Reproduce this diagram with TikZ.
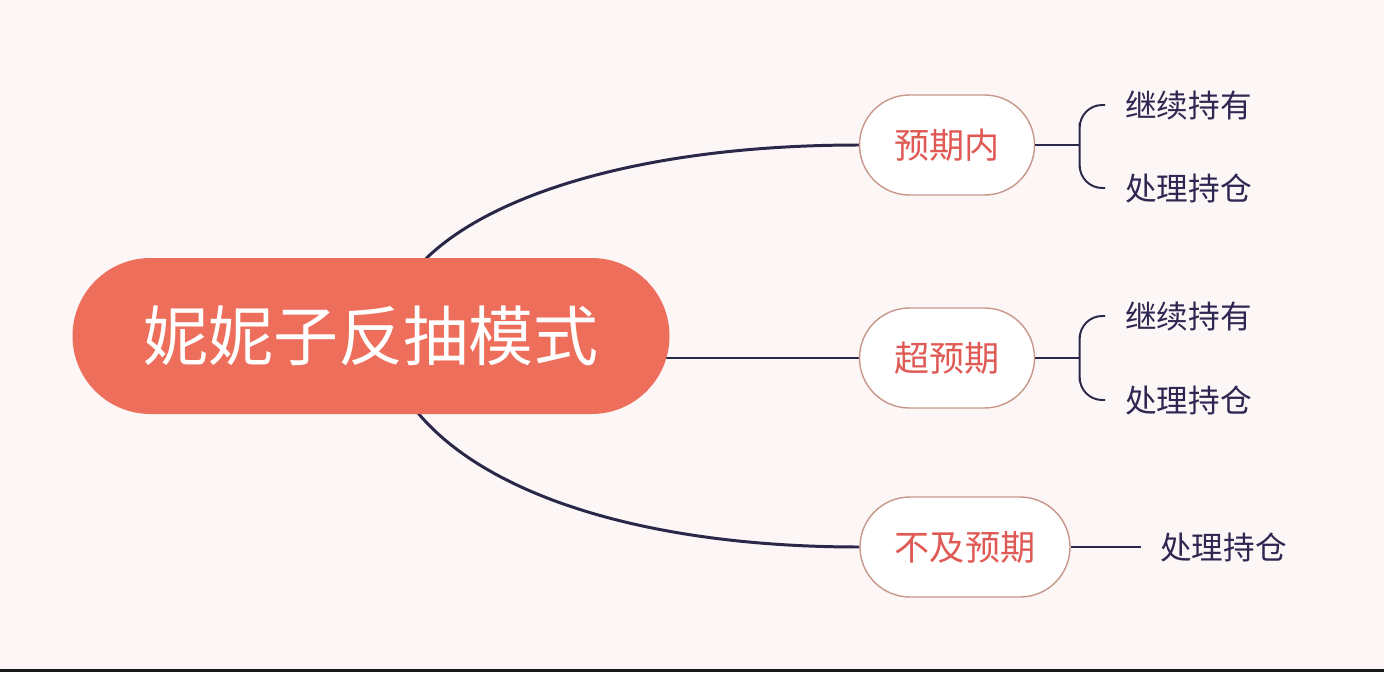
\documentclass[tikz,border=0pt]{standalone}
\usepackage{fontspec}
\usepackage{tikz}
\usetikzlibrary{backgrounds,calc}
\newfontfamily\cjk{Noto Sans CJK SC}
\definecolor{bgpink}{HTML}{FCF6F6}
\definecolor{rootred}{HTML}{EE6E5C}
\definecolor{optred}{HTML}{E05A55}
\definecolor{rimbrown}{HTML}{C8978C}
\definecolor{navy}{HTML}{2A2848}
\definecolor{leafink}{HTML}{2D2752}

\begin{document}
\begin{tikzpicture}[
  rootbox/.style={fill=rootred, text=white, rounded corners=1.56cm, minimum width=11.94cm,
    minimum height=3.12cm, inner sep=0pt, font=\cjk\fontsize{37}{40}\selectfont},
  optbox/.style={fill=white, draw=rimbrown, line width=0.8pt, rounded corners=1cm,
    minimum height=2cm, minimum width=3.5cm, inner sep=0pt, text=optred,
    font=\cjk\fontsize{20}{24}\selectfont},
  leaf/.style={anchor=west, inner sep=0pt, text=leafink, font=\cjk\fontsize{18}{22}\selectfont},
  mainlink/.style={navy, line width=1.7pt},
  forkline/.style={navy, line width=1.1pt, rounded corners=0.45cm}]
       \useasboundingbox (0,0) rectangle (27.68,13.44);

       \node[rootbox](R) at (7.42,6.72) {妮妮子反抽模式};

       \node[optbox](P1) at (18.94,10.54) {预期内};
       \node[optbox](P2) at (18.94,6.28) {超预期};
       \node[optbox, minimum width=4.2cm](P3) at (19.30,2.5) {不及预期};

       \node[leaf](K1) at (22.5,11.34) {继续持有};
       \node[leaf](C1) at (22.5,9.68) {处理持仓};
       \node[leaf](K2) at (22.5,7.12) {继续持有};
       \node[leaf](C2) at (22.5,5.44) {处理持仓};
       \node[leaf](C3) at (23.2,2.5) {处理持仓};

       \coordinate(F1) at ($(P1.east)+(0.89,0)$);
       \coordinate(F2) at ($(P2.east)+(0.89,0)$);
       \coordinate(F3) at ($(P3.east)+(1.4,0)$);

       \begin{scope}[on background layer]
       \fill[bgpink] (0,0) rectangle (27.68,13.44);
       \fill[black!90] (0,0) rectangle (27.68,0.06);

       \draw[mainlink] ([xshift=1.02cm,yshift=-0.1cm]R.north) .. controls (9.8,9.6) and (13,10.54) .. (P1.west);
       \draw[mainlink] ([xshift=-0.3cm]R.east |- P2.west) -- (P2.west);
       \draw[mainlink] ([xshift=0.88cm,yshift=0.1cm]R.south) .. controls (9.7,3.5) and (13,2.5) .. (P3.west);
       \end{scope}

       \draw[forkline] (P1.east) -- (F1);
       \draw[forkline] ([xshift=-0.4cm]K1.west) -| (F1) |- ([xshift=-0.4cm]C1.west);

       \draw[forkline] (P2.east) -- (F2);
       \draw[forkline] ([xshift=-0.4cm]K2.west) -| (F2) |- ([xshift=-0.4cm]C2.west);

       \draw[forkline] (P3.east) -- (F3);
\end{tikzpicture}
\end{document}
